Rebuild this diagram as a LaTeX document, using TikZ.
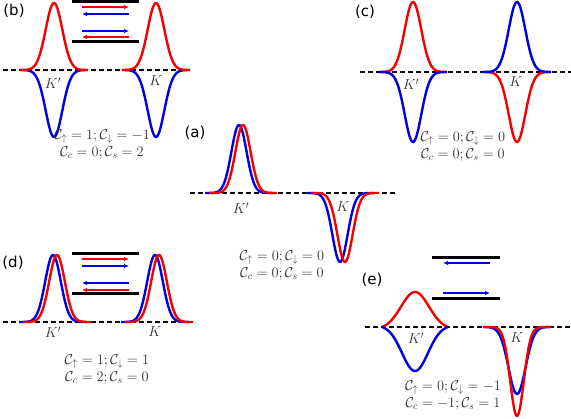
\documentclass[tikz,border=0pt]{standalone}
\usepackage{fontspec}
\newfontfamily\labelfont{DejaVu Sans}
\usetikzlibrary{arrows.meta}
\definecolor{cred}{RGB}{245,0,0}
\definecolor{cblue}{RGB}{0,0,225}
\definecolor{txtc}{RGB}{50,50,50}
\tikzset{
  curve/.style={line width=2.4pt, line join=round},
  baseline/.style={line width=1.4pt, dash pattern=on 5pt off 3pt},
  barline/.style={line width=3pt},
  arr/.style={line width=1.4pt, -{Latex[length=5pt,width=4.5pt]}},
  chern/.style={align=center, text=txtc, font=\fontsize{14.3}{17}\selectfont, inner sep=0pt},
  kl/.style={text=txtc, font=\fontsize{14.3}{17}\selectfont, inner sep=0pt},
  plabel/.style={font=\labelfont\fontsize{15}{18}\selectfont, inner sep=0pt},
}
% cx, cy, sigma, height (up positive), half range, colour
\newcommand\gpk[6]{%
  \draw[curve,#6] plot[domain=-#5:#5,samples=81,smooth]
    ({#1+\x},{#2-(#4)*(exp(-(\x)^2/(2*#3*#3))-exp(-(#5)^2/(2*#3*#3)))/(1-exp(-(#5)^2/(2*#3*#3)))});}
\begin{document}
\begin{tikzpicture}[x=1pt,y=-1pt]
\useasboundingbox (0,0) rectangle (571,419);

% ---------------- (b)
\draw[baseline] (3,70) -- (190,70);
\gpk{54}{70}{8.3}{-67}{34}{cblue}
\gpk{54}{70}{8.3}{67}{34}{cred}
\gpk{156}{70}{8.3}{-67}{34}{cblue}
\gpk{156}{70}{8.3}{67}{34}{cred}
\node[kl] (bKp) at (53,83) {$K'$};
\node[kl] (bK) at (156,81) {$K$};
\draw[barline] (72,2) -- (139,2);
\draw[barline] (72,42) -- (139,42);
\draw[arr,cred] (82,7) -- (129,7);
\draw[arr,cblue] (129,14) -- (82,14);
\draw[arr,cblue] (82,31) -- (129,31);
\draw[arr,cred] (129,37) -- (82,37);
\node[chern] (bt) at (102,144.5) {$\mathcal{C}_\uparrow=1;\mathcal{C}_\downarrow=-1$\\$\mathcal{C}_c=0;\mathcal{C}_s=2$};
\node[plabel] (bl) at (14,11) {(b)};

% ---------------- (c)
\draw[baseline] (360,72) -- (571,72);
\gpk{413}{72}{8.3}{70}{34}{cred}
\gpk{413}{72}{8.3}{-70}{34}{cblue}
\gpk{517}{72}{8.3}{-70}{34}{cred}
\gpk{517}{72}{8.3}{70}{34}{cblue}
\node[kl] (cKp) at (411,84) {$K'$};
\node[kl] (cK) at (516,82) {$K$};
\node[chern] (ct) at (463,146) {$\mathcal{C}_\uparrow=0;\mathcal{C}_\downarrow=0$\\$\mathcal{C}_c=0;\mathcal{C}_s=0$};
\node[plabel] (cl) at (365,12) {(c)};

% ---------------- (a)
\draw[baseline] (190,193) -- (395,193);
\gpk{239}{193}{7.6}{68}{34}{cblue}
\gpk{243}{193}{7.6}{68}{34}{cred}
\gpk{340}{193}{7.6}{-69}{34}{cblue}
\gpk{345}{193}{7.6}{-69}{34}{cred}
\node[kl] (aKp) at (241,208) {$K'$};
\node[kl] (aK) at (343,207) {$K$};
\node[chern] (at) at (282,265) {$\mathcal{C}_\uparrow=0;\mathcal{C}_\downarrow=0$\\$\mathcal{C}_c=0;\mathcal{C}_s=0$};
\node[plabel] (al) at (195,133) {(a)};

% ---------------- (d)
\draw[baseline] (3,322) -- (190,322);
\gpk{53}{322}{7.8}{67}{34}{cblue}
\gpk{57}{322}{7.8}{67}{34}{cred}
\gpk{155}{322}{7.8}{67}{34}{cblue}
\gpk{159}{322}{7.8}{67}{34}{cred}
\draw[barline] (72,254) -- (139,254);
\draw[barline] (72,294) -- (139,294);
\draw[arr,cred] (82,259) -- (129,259);
\draw[arr,cblue] (82,266) -- (129,266);
\draw[arr,cblue] (129,283) -- (82,283);
\draw[arr,cred] (129,290) -- (82,290);
\node[kl] (dKp) at (53,332) {$K'$};
\node[kl] (dK) at (155,332) {$K$};
\node[chern] (dt) at (107,369.5) {$\mathcal{C}_\uparrow=1;\mathcal{C}_\downarrow=1$\\$\mathcal{C}_c=2;\mathcal{C}_s=0$};
\node[plabel] (dl) at (13,263) {(d)};

% ---------------- (e)
\draw[baseline] (365,327) -- (571,327);
\gpk{415}{327}{14}{35}{33}{cred}
\gpk{415}{327}{13}{-44}{33}{cblue}
\gpk{517}{327}{8.5}{-67}{34}{cblue}
\gpk{517}{327}{6.8}{-89}{34}{cred}
\draw[barline] (432,258) -- (500,258);
\draw[barline] (432,299) -- (500,299);
\draw[arr,cblue] (490,263) -- (443,263);
\draw[arr,cblue] (443,293) -- (490,293);
\node[kl] (eKp) at (416,338) {$K'$};
\node[kl] (eK) at (517,338) {$K$};
\node[chern] (et) at (453,395.5) {$\mathcal{C}_\uparrow=0;\mathcal{C}_\downarrow=-1$\\$\mathcal{C}_c=-1;\mathcal{C}_s=1$};
\node[plabel] (el) at (372,280) {(e)};
\end{tikzpicture}
\end{document}
